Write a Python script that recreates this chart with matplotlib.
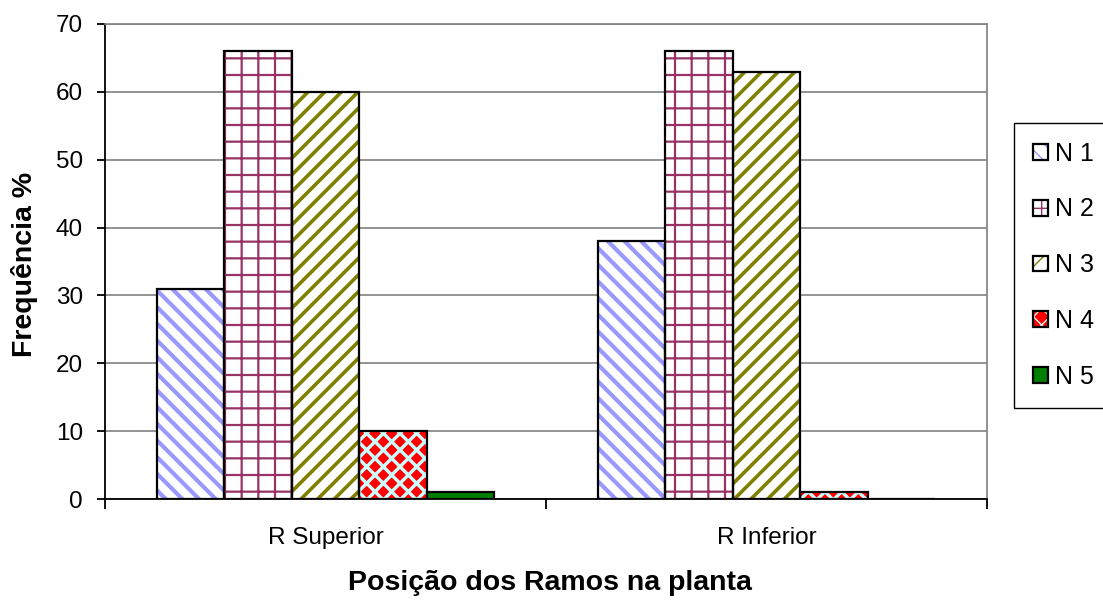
import numpy as np
import matplotlib.pyplot as plt
from matplotlib.patches import Patch

# Data
categories = ['R Superior', 'R Inferior']
series_names = ['N 1', 'N 2', 'N 3', 'N 4', 'N 5']
n1 = [31, 38]
n2 = [66, 66]
n3 = [60, 63]
n4 = [10, 1]
n5 = [1, 0]
values = [n1, n2, n3, n4, n5]

# style per series: face, hatch, hatch colour, hatch linewidth
faces = ['white', 'white', 'white', '#FF0000', '#008000']
hatches = ['\\\\', '+', '//', 'xx', None]
hatch_cols = ['#9999FF', '#993366', '#808000', '#CCFFFF', '#008000']
hatch_lws = [3.0, 1.6, 2.6, 2.4, 1.0]

plt.rcParams['font.family'] = ['Liberation Sans', 'DejaVu Sans']

fig = plt.figure(figsize=(11.03, 6.04), dpi=100)
ax = fig.add_axes([105/1103, 1-499/604, (987-105)/1103, (499-24)/604])

x = np.arange(len(categories))
w = 67.5 / 441

handles = []
for i in range(5):
    pos = x + (i - 2) * w
    with plt.rc_context({'hatch.linewidth': hatch_lws[i]}):
        ax.bar(pos, values[i], w, color=faces[i], hatch=hatches[i],
               edgecolor=hatch_cols[i], linewidth=0, zorder=3)
        hp = Patch(facecolor=faces[i], hatch=hatches[i],
                   edgecolor=hatch_cols[i], linewidth=0)
    ax.bar(pos, values[i], w, fill=False, edgecolor='black',
           linewidth=1.6, zorder=4)
    op = Patch(fill=False, edgecolor='black', linewidth=1.6)
    handles.append((hp, op))

ax.set_xlim(-0.5, 1.5)
ax.set_ylim(0, 70)
ax.set_yticks(range(0, 71, 10))
ax.set_xticks(x)
ax.set_xticklabels(categories)
ax.set_xticks([-0.5, 0.5, 1.5], minor=True)
ax.tick_params(axis='x', which='major', length=0, pad=20, labelsize=17.5)
ax.tick_params(axis='x', which='minor', length=7, width=1.3, direction='out')
ax.tick_params(axis='y', length=6, width=1.3, pad=10, labelsize=17.5)

ax.yaxis.grid(True, color='#808080', linewidth=1.2, zorder=0)
ax.set_axisbelow(True)
ax.spines['left'].set_linewidth(1.3)
ax.spines['bottom'].set_linewidth(1.3)
ax.spines['top'].set_color('#808080')
ax.spines['right'].set_color('#808080')
ax.spines['top'].set_linewidth(1.2)
ax.spines['right'].set_linewidth(1.2)

fig.text(25/1103, 1-264/604, 'Frequência %', rotation=90, fontsize=20.5,
         fontweight='bold', ha='center', va='center')
fig.text(550/1103, 1-583/604, 'Posição dos Ramos na planta', fontsize=20.5,
         fontweight='bold', ha='center', va='center')

leg = ax.legend(handles, series_names, loc='upper left',
                bbox_to_anchor=(1014/1103, 1-123/604),
                bbox_transform=fig.transFigure, borderaxespad=0,
                fontsize=18, handlelength=0.6, handleheight=0.6,
                handletextpad=0.3, labelspacing=1.27, borderpad=0.75,
                fancybox=False, framealpha=1)
leg.get_frame().set_edgecolor('black')
leg.get_frame().set_linewidth(1.0)

fig.savefig('out.png', dpi=100)
